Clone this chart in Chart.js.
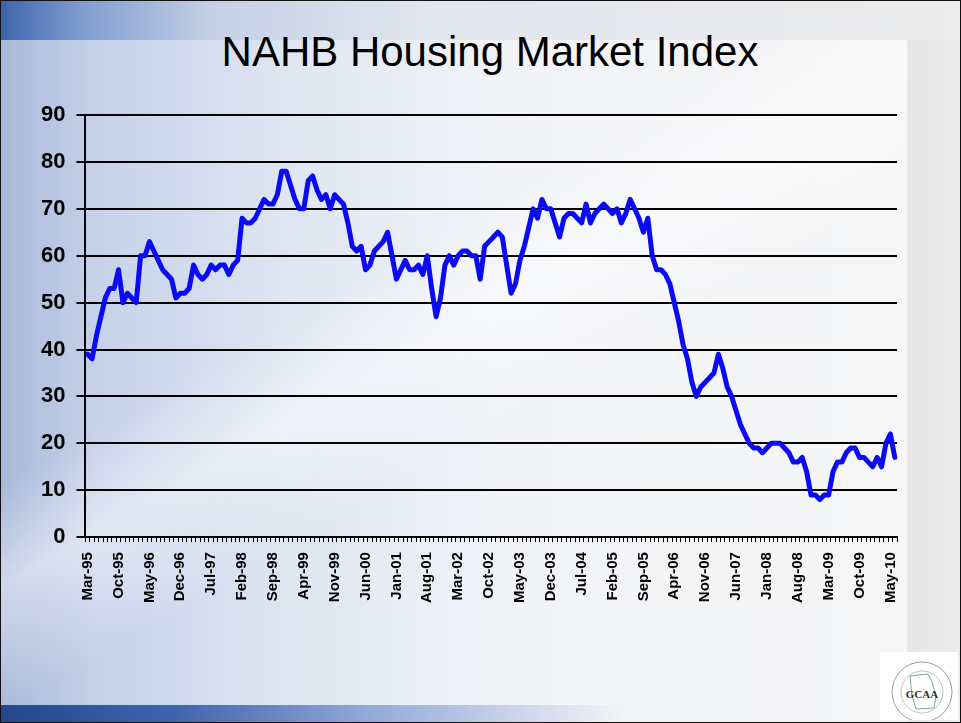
<!DOCTYPE html>
<html>
<head>
<meta charset="utf-8">
<script src="https://cdn.jsdelivr.net/npm/chart.js@4/dist/chart.umd.min.js"></script>
<style>
  html, body { margin: 0; padding: 0; }
  body { width: 961px; height: 723px; overflow: hidden; position: relative; font-family: "Liberation Sans", Arial, sans-serif; }
  #bg {
    position: absolute; left: 0; top: 0; width: 961px; height: 723px;
    background:
      linear-gradient(to right, #3d63ad 0%, #7d9acf 8%, #c4d0e6 22%, #e2e6ee 45%, #ececec 100%) top left / 100% 40px no-repeat,
      linear-gradient(to right, #24468f 0%, #3f63ad 18%, rgba(110,140,205,0.7) 38%, rgba(255,255,255,0) 65%) bottom left / 100% 18px no-repeat,
      linear-gradient(to right, rgba(0,0,0,0) 94.3%, #e6e6e6 94.5%, #ececec 100%),
      linear-gradient(150deg, rgba(255,255,255,0) 38%, rgba(255,255,255,0.45) 46%, rgba(255,255,255,0) 56%),
      linear-gradient(to right, #a8b8da 0%, #c6d2ea 10%, #dfe6f2 30%, #f1f3f7 52%, #f6f6f6 100%);
    box-shadow: inset 0 0 0 1px #111;
  }
  #title {
    position: absolute; left: 0; width: 980px; top: 27px; height: 50px; line-height: 50px;
    text-align: center; font-size: 42px; color: #000; font-family: "Liberation Sans", Arial, sans-serif;
  }
  #chart { position: absolute; left: 0; top: 0; }
  #logo { position: absolute; left: 880px; top: 652px; width: 78px; height: 68px; background: #ffffff; }
</style>
</head>
<body>
<div id="bg"></div>
<div id="title"></div>
<canvas id="chart" width="961" height="723"></canvas>
<div id="logo">
  <svg width="78" height="68" viewBox="0 0 78 68">
    <circle cx="42" cy="40" r="30" fill="none" stroke="#9a9a9a" stroke-width="1"/>
    <circle cx="42" cy="40" r="21" fill="none" stroke="#b5b5b5" stroke-width="0.8"/>
    <path d="M30 24 L48 22 L52 30 L56 44 L54 56 L36 57 L32 44 Z" fill="none" stroke="#7fa890" stroke-width="1"/>
    <text x="42" y="46" text-anchor="middle" font-family="Liberation Serif, serif" font-weight="bold" font-size="11" fill="#333">GCAA</text>
  </svg>
</div>
<script>
// ---- Data (NAHB Housing Market Index, monthly, Mar-95 .. Jun-10) ----
const monthNames = ['Jan','Feb','Mar','Apr','May','Jun','Jul','Aug','Sep','Oct','Nov','Dec'];
const startYear = 1995, startMonth = 2; // Mar-95

const values1995 = [39, 38, 43, 47, 51, 53, 53, 57, 50, 52];           // Mar..Dec
const values1996 = [51, 50, 60, 60, 63, 61, 59, 57, 56, 55, 51, 52];
const values1997 = [52, 53, 58, 56, 55, 56, 58, 57, 58, 58, 56, 58];
const values1998 = [59, 68, 67, 67, 68, 70, 72, 71, 71, 73, 78, 78];
const values1999 = [75, 72, 70, 70, 76, 77, 74, 72, 73, 70, 73, 72];
const values2000 = [71, 67, 62, 61, 62, 57, 58, 61, 62, 63, 65, 60];
const values2001 = [55, 57, 59, 57, 57, 58, 56, 60, 53, 47, 51, 58];
const values2002 = [60, 58, 60, 61, 61, 60, 60, 55, 62, 63, 64, 65];
const values2003 = [64, 58, 52, 54, 59, 62, 66, 70, 68, 72, 70, 70];
const values2004 = [67, 64, 68, 69, 69, 68, 67, 71, 67, 69, 70, 71];
const values2005 = [70, 69, 70, 67, 69, 72, 70, 68, 65, 68, 60, 57];
const values2006 = [57, 56, 54, 50, 46, 41, 38, 33, 30, 32, 33, 34];
const values2007 = [35, 39, 36, 32, 30, 27, 24, 22, 20, 19, 19, 18];
const values2008 = [19, 20, 20, 20, 19, 18, 16, 16, 17, 14, 9, 9];
const values2009 = [8, 9, 9, 14, 16, 16, 18, 19, 19, 17, 17, 16];
const values2010 = [15, 17, 15, 20, 22, 17];                            // Jan..Jun

const tickLabels = ['Mar-95','Oct-95','May-96','Dec-96','Jul-97','Feb-98','Sep-98','Apr-99',
  'Nov-99','Jun-00','Jan-01','Aug-01','Mar-02','Oct-02','May-03','Dec-03','Jul-04','Feb-05',
  'Sep-05','Apr-06','Nov-06','Jun-07','Jan-08','Aug-08','Mar-09','Oct-09','May-10'];

const yTicks = [0, 10, 20, 30, 40, 50, 60, 70, 80, 90];
const chartTitle = 'NAHB Housing Market Index';

// ---- Build series ----
const series = [].concat(values1995, values1996, values1997, values1998, values1999, values2000,
  values2001, values2002, values2003, values2004, values2005, values2006, values2007,
  values2008, values2009, values2010);
const categories = series.map((_, i) => {
  const m = startMonth + i;
  const y = startYear + Math.floor(m / 12);
  return monthNames[m % 12] + '-' + String(y % 100).padStart(2, '0');
});
const tickSet = new Set(tickLabels);

document.getElementById('title').textContent = chartTitle;

new Chart(document.getElementById('chart'), {
  type: 'line',
  data: {
    labels: categories,
    datasets: [{
      data: series,
      borderColor: '#0a0af5',
      borderWidth: 5,
      pointRadius: 0,
      tension: 0,
      borderJoinStyle: 'round',
      borderCapStyle: 'round',
      fill: false
    }]
  },
  options: {
    responsive: false,
    devicePixelRatio: 1,
    animation: false,
    layout: { padding: { left: 30, right: 64, top: 115, bottom: 110 } },
    plugins: {
      legend: { display: false },
      tooltip: { enabled: false },
      title: { display: false }
    },
    scales: {
      x: {
        type: 'category',
        offset: true,
        border: { display: true, color: '#000', width: 2 },
        grid: { display: true, drawOnChartArea: false, drawTicks: true, tickLength: 5, color: '#000', lineWidth: 1, offset: true },
        ticks: {
          autoSkip: false,
          maxRotation: 90,
          minRotation: 90,
          padding: 10,
          color: '#000',
          font: { family: '"Liberation Sans", Arial, sans-serif', size: 15, weight: 'bold' },
          callback: function(value) {
            const lab = this.getLabelForValue(value);
            return tickSet.has(lab) ? lab : '';
          }
        }
      },
      y: {
        min: yTicks[0],
        max: yTicks[yTicks.length - 1],
        border: { display: true, color: '#000', width: 2 },
        grid: { color: '#000', lineWidth: 2, tickLength: 9, drawTicks: true },
        afterBuildTicks: (scale) => { scale.ticks = yTicks.map(v => ({ value: v })); },
        ticks: {
          padding: 11,
          color: '#000',
          font: { family: '"Liberation Sans", Arial, sans-serif', size: 22, weight: 'bold' }
        }
      }
    }
  }
});
</script>
</body>
</html>
